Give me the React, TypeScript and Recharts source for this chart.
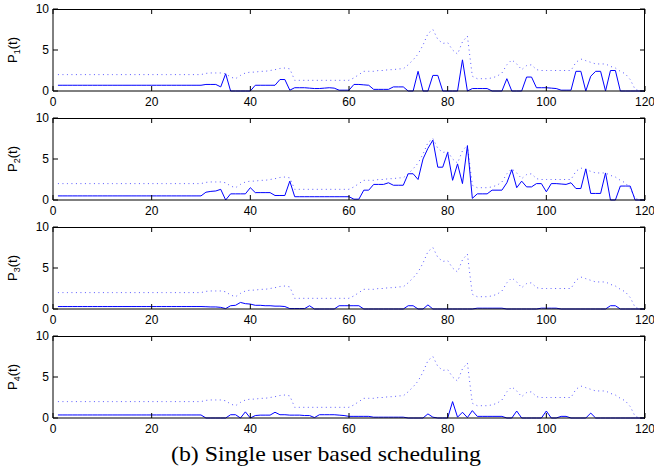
import { LineChart, Line, XAxis, YAxis } from "recharts";

const FONT = "'Liberation Sans', Arial, Helvetica, sans-serif";
const BLUE = "#0000ff";

// plot box inside each panel
const PLOT_LEFT = 53;
const PLOT_TOP = 9;
const PLOT_W = 592;
const PLOT_H = 82;

// time slots 1..120
const time = Array.from({ length: 120 }, (_, i) => i + 1);
const xTicks = [0, 20, 40, 60, 80, 100, 120];
const yTicks = [0, 5, 10];

// dotted line: total transmit power (same on every panel)
const totalPower = [
  2.0, 2.0, 2.0, 2.0, 2.0, 2.0, 2.0, 2.0, 2.0, 2.0,
  2.0, 2.0, 2.0, 2.0, 2.0, 2.0, 2.0, 2.0, 2.0, 2.0,
  2.0, 2.0, 2.0, 2.0, 2.0, 2.0, 2.0, 2.0, 2.0, 2.0,
  2.15, 2.2, 2.2, 2.2, 2.1, 1.7, 1.5, 1.9, 2.2, 2.3,
  2.3, 2.4, 2.4, 2.5, 2.6, 2.75, 2.8, 2.7, 1.3, 1.3,
  1.3, 1.3, 1.3, 1.3, 1.3, 1.3, 1.3, 1.3, 1.3, 1.3,
  1.6, 2.0, 2.4, 2.4, 2.4, 2.5, 2.5, 2.6, 2.6, 2.7,
  2.7, 3.2, 3.8, 4.5, 5.6, 7.0, 7.5, 6.3, 5.8, 5.9,
  5.0, 4.5, 6.0, 6.7, 1.8, 1.5, 1.5, 1.5, 1.6, 1.8,
  2.2, 3.2, 3.8, 3.3, 2.6, 3.1, 3.2, 2.6, 2.5, 2.5,
  2.5, 2.5, 2.5, 2.5, 2.5, 3.5, 3.9, 3.7, 3.5, 3.3,
  3.3, 3.3, 3.0, 2.8, 2.4, 2.1, 1.4, 0.2, 0, 0,
];

const p1 = [
  0.7, 0.7, 0.7, 0.7, 0.7, 0.7, 0.7, 0.7, 0.7, 0.7,
  0.7, 0.7, 0.7, 0.7, 0.7, 0.7, 0.7, 0.7, 0.7, 0.7,
  0.7, 0.7, 0.7, 0.7, 0.7, 0.7, 0.7, 0.7, 0.7, 0.7,
  0.8, 0.8, 0.8, 0.5, 2.1, 0, 0, 0, 0, 0,
  0.7, 0.7, 0.7, 0.7, 0.7, 1.4, 1.4, 0.1, 0.4, 0.4,
  0.4, 0.35, 0.3, 0.3, 0.35, 0.4, 0.35, 0.1, 0.1, 0.1,
  0.8, 0.8, 0.75, 0.7, 0.2, 0.2, 0.2, 0.2, 0.5, 0.5,
  0.5, 0, 0, 2.4, 0, 0, 1.9, 1.9, 0, 0,
  0, 0, 3.8, 0, 0.3, 0.3, 0.3, 0.3, 0, 0,
  0, 1.5, 0, 0, 0, 1.7, 1.7, 0.4, 0.4, 0.4,
  0.35, 0.3, 0.1, 0.1, 0.1, 2.4, 2.4, 0, 1.8, 2.4,
  2.4, 0, 2.5, 2.5, 0, 0, 0, 0, 0, 0,
];

const p2 = [
  0.5, 0.5, 0.5, 0.5, 0.5, 0.5, 0.5, 0.5, 0.5, 0.5,
  0.5, 0.5, 0.5, 0.5, 0.5, 0.5, 0.5, 0.5, 0.5, 0.5,
  0.5, 0.5, 0.5, 0.5, 0.5, 0.5, 0.5, 0.5, 0.5, 0.5,
  0.95, 1.05, 1.1, 1.3, 0, 0.75, 0.75, 0.75, 0.75, 1.5,
  0.9, 0.9, 0.9, 0.9, 0.55, 0.55, 0.55, 2.3, 0.4, 0.4,
  0.4, 0.4, 0.4, 0.4, 0.4, 0.4, 0.4, 0.4, 0.4, 0.4,
  0.1, 0.1, 1.2, 1.2, 1.9, 1.9, 1.9, 2.1, 1.8, 1.8,
  1.8, 3.2, 3.2, 2.5, 5.0, 6.3, 7.3, 4.0, 4.0, 5.8,
  2.4, 4.4, 2.0, 6.6, 0.2, 0.75, 0.75, 0.75, 1.2, 1.2,
  1.2, 2.1, 3.7, 1.5, 2.3, 1.6, 1.6, 2.0, 2.0, 1.0,
  2.0, 2.0, 1.95, 1.9, 2.1, 1.4, 1.4, 3.8, 0.8, 0.8,
  0.8, 3.3, 0, 0, 1.7, 1.7, 1.7, 0, 0, 0,
];

const p3 = [
  0.3, 0.3, 0.3, 0.3, 0.3, 0.3, 0.3, 0.3, 0.3, 0.3,
  0.3, 0.3, 0.3, 0.3, 0.3, 0.3, 0.3, 0.3, 0.3, 0.3,
  0.3, 0.3, 0.3, 0.3, 0.3, 0.3, 0.3, 0.3, 0.3, 0.3,
  0.28, 0.25, 0.25, 0.2, 0.05, 0.4, 0.45, 0.8, 0.65, 0.6,
  0.45, 0.45, 0.4, 0.4, 0.35, 0.35, 0.3, 0.05, 0.05, 0.05,
  0.05, 0.4, 0, 0, 0, 0, 0, 0.4, 0.4, 0.4,
  0.4, 0.4, 0, 0, 0, 0, 0, 0, 0, 0,
  0, 0.4, 0.4, 0, 0, 0.5, 0, 0, 0, 0,
  0, 0, 0, 0, 0, 0.1, 0.1, 0.1, 0.1, 0.1,
  0.1, 0, 0, 0, 0, 0, 0, 0, 0.1, 0.1,
  0.1, 0.1, 0, 0, 0, 0, 0, 0, 0, 0,
  0, 0, 0.4, 0.4, 0, 0, 0, 0, 0, 0,
];

const p4 = [
  0.37, 0.37, 0.37, 0.37, 0.37, 0.37, 0.37, 0.37, 0.37, 0.37,
  0.37, 0.37, 0.37, 0.37, 0.37, 0.37, 0.37, 0.37, 0.37, 0.37,
  0.37, 0.37, 0.37, 0.37, 0.37, 0.37, 0.37, 0.37, 0.37, 0.37,
  0, 0, 0, 0, 0, 0.4, 0.4, 0, 0.75, 0,
  0.3, 0.35, 0.35, 0.35, 0.7, 0.4, 0.4, 0.35, 0.35, 0.35,
  0.3, 0.3, 0.05, 0.4, 0.4, 0.4, 0.4, 0.35, 0.3, 0.2,
  0.2, 0.2, 0.2, 0.2, 0.1, 0.1, 0.1, 0.1, 0.1, 0.1,
  0.1, 0, 0, 0, 0, 0.5, 0.1, 0, 0, 0,
  2.0, 0.1, 0.7, 0.05, 0.9, 0.2, 0.2, 0.2, 0.2, 0.2,
  0.2, 0, 0, 0.85, 0, 0, 0, 0, 0, 0.85,
  0, 0, 0.2, 0.2, 0, 0, 0, 0, 0.6, 0,
  0, 0, 0, 0, 0, 0, 0, 0, 0, 0,
];

const users = [p1, p2, p3, p4];

// bottom ticks point up into the plot, mirrored onto the top edge
const BottomTick = ({ x, y, payload }: any) => (
  <g>
    <line x1={x} y1={y} x2={x} y2={y - 5} stroke="#000" strokeWidth={1} />
    <line x1={x} y1={y - PLOT_H} x2={x} y2={y - PLOT_H + 5} stroke="#000" strokeWidth={1} />
    <text x={x} y={y + 15} textAnchor="middle" fontSize={12} fontFamily={FONT} fill="#000">
      {payload.value}
    </text>
  </g>
);

// left ticks point right into the plot, mirrored onto the right edge
const LeftTick = ({ x, y, payload }: any) => (
  <g>
    <line x1={x} y1={y} x2={x + 5} y2={y} stroke="#000" strokeWidth={1} />
    <line x1={x + PLOT_W} y1={y} x2={x + PLOT_W - 5} y2={y} stroke="#000" strokeWidth={1} />
    <text x={x - 4} y={y + 4} textAnchor="end" fontSize={12} fontFamily={FONT} fill="#000">
      {payload.value}
    </text>
  </g>
);

function Panel({ n, values }: { n: number; values: number[] }) {
  const data = time.map((t, i) => ({ t, p: values[i], total: totalPower[i] }));

  const yLabel = (props: any) => {
    const vb = props.viewBox || { y: PLOT_TOP, height: PLOT_H };
    const cx = 17;
    const cy = vb.y + vb.height / 2;
    return (
      <text
        x={cx}
        y={cy}
        transform={`rotate(-90 ${cx} ${cy})`}
        textAnchor="middle"
        fontSize={13}
        fontFamily={FONT}
        fill="#000"
      >
        P
        <tspan dy={3} fontSize={9}>
          {n}
        </tspan>
        <tspan dy={-3}>(t)</tspan>
      </text>
    );
  };

  return (
    <div style={{ position: "relative", width: 654, height: 109 }}>
      <LineChart
        width={654}
        height={109}
        data={data}
        margin={{ top: PLOT_TOP, right: 654 - PLOT_LEFT - PLOT_W, bottom: 0, left: 0 }}
      >
        <XAxis
          dataKey="t"
          type="number"
          domain={[0, 120]}
          ticks={xTicks}
          interval={0}
          height={18}
          tickSize={0}
          tickMargin={0}
          tickLine={false}
          axisLine={{ stroke: "#000" }}
          tick={BottomTick}
        />
        <YAxis
          type="number"
          domain={[0, 10]}
          ticks={yTicks}
          interval={0}
          width={PLOT_LEFT}
          tickSize={0}
          tickMargin={0}
          tickLine={false}
          axisLine={{ stroke: "#000" }}
          tick={LeftTick}
          label={{ content: yLabel }}
        />
        <Line
          type="linear"
          dataKey="total"
          stroke="#5a5aff"
          strokeWidth={1}
          strokeDasharray="1 3.5"
          dot={false}
          activeDot={false}
          isAnimationActive={false}
        />
        <Line
          type="linear"
          dataKey="p"
          stroke={BLUE}
          strokeWidth={1}
          dot={false}
          activeDot={false}
          isAnimationActive={false}
        />
      </LineChart>
      {/* MATLAB-style box around the plot area */}
      <div
        style={{
          position: "absolute",
          left: PLOT_LEFT,
          top: PLOT_TOP - 0.5,
          width: PLOT_W,
          height: PLOT_H + 1,
          borderTop: "1px solid #000",
          borderRight: "1px solid #000",
          boxSizing: "border-box",
          pointerEvents: "none",
        }}
      />
    </div>
  );
}

export default function App() {
  return (
    <div
      style={{
        position: "absolute",
        left: 0,
        top: 0,
        width: 654,
        height: 470,
        background: "#fff",
        overflow: "hidden",
      }}
    >
      {users.map((u, i) => (
        <div key={i} style={{ position: "absolute", left: 0, top: i * 109 }}>
          <Panel n={i + 1} values={u} />
        </div>
      ))}
      <svg
        width={654}
        height={40}
        style={{ position: "absolute", left: 0, top: 430 }}
      >
        <text
          x={326}
          y={31}
          textAnchor="middle"
          fontSize={22}
          fontFamily="'Liberation Serif', 'Times New Roman', serif"
          fill="#000"
          textLength={310}
          lengthAdjust="spacingAndGlyphs"
        >
          (b) Single user based scheduling
        </text>
      </svg>
    </div>
  );
}
